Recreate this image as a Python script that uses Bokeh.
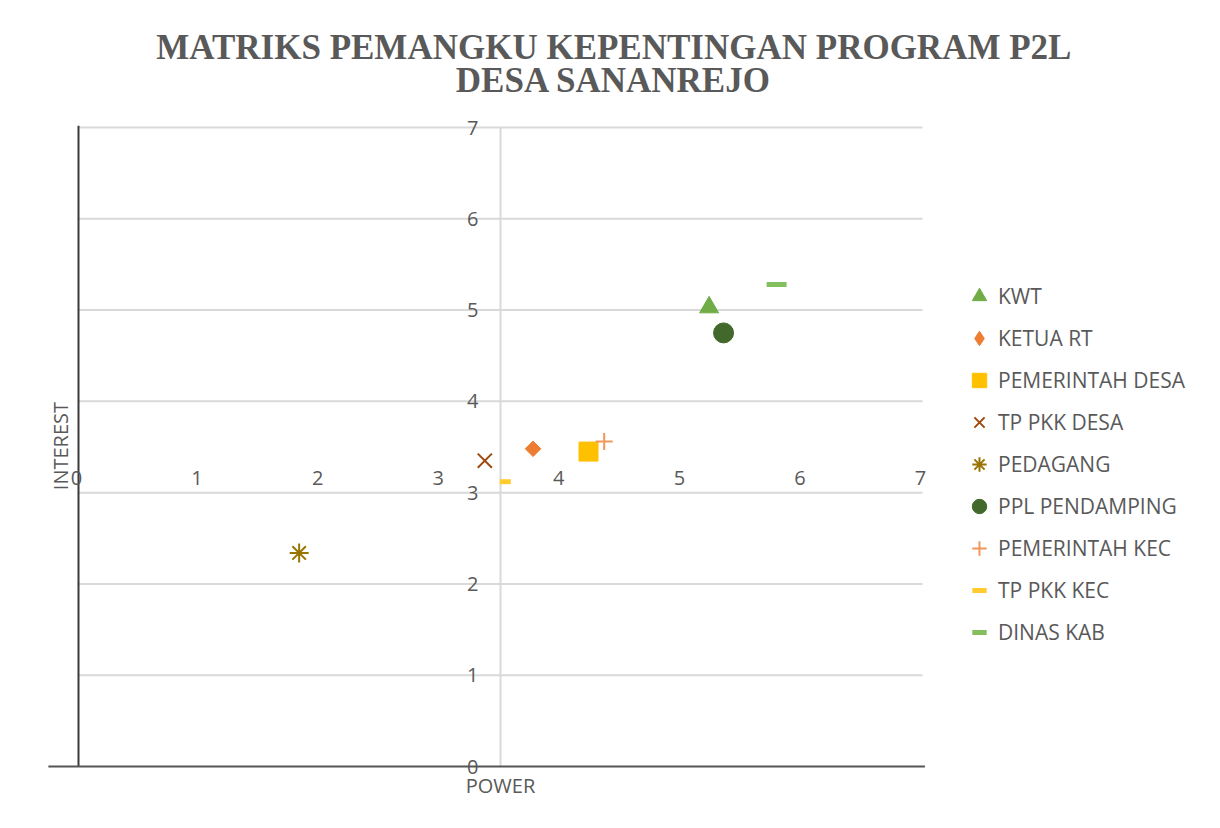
import math
from bokeh.plotting import figure
from bokeh.models import ColumnDataSource, Range1d, Legend, LegendItem
from bokeh.core.properties import value
from bokeh.embed import file_html
from bokeh.resources import INLINE

# ---- data ----
stakeholders = ["KWT", "KETUA RT", "PEMERINTAH DESA", "TP PKK DESA", "PEDAGANG",
                "PPL PENDAMPING", "PEMERINTAH KEC", "TP PKK KEC", "DINAS KAB"]
power = [5.23, 3.77, 4.23, 3.37, 1.83, 5.35, 4.36, 3.54, 5.79]
interest = [5.03, 3.48, 3.45, 3.35, 2.34, 4.75, 3.56, 3.12, 5.28]
x_ticks = [0, 1, 2, 3, 4, 5, 6, 7]
y_ticks = [0, 1, 2, 3, 4, 5, 6, 7]
title_lines = ["MATRIKS PEMANGKU KEPENTINGAN PROGRAM P2L", "DESA SANANREJO"]
x_title = "POWER"
y_title = "INTEREST"

# ---- styles ----
markers = ["triangle", "square", "square", "x", "asterisk", "circle", "cross", "dash", "dash"]
legend_markers = ["triangle", "diamond", "square", "x", "asterisk", "circle", "cross", "dash", "dash"]
angles = [0, math.pi / 4, 0, 0, 0, 0, 0, 0, 0]
colors = ["#70AD47", "#ED7D31", "#FFC000", "#9E480E", "#997300", "#43682B",
          "#F1975A", "#FFCB2E", "#84BF5E"]
sizes = [19, 11, 19, 20, 19, 20, 17, 11, 20]
TEXT = "#595959"
GRID = "#D9D9D9"
FONT = "Open Sans"

W, H = 1220, 828
# chart area: x 0..7 -> px 78..922, y 0..7 -> px 766..127
sx = (922 - 78) / 7.0
sy = (766 - 127) / 7.0
x0 = -78 / sx
x1 = (W - 78) / sx
y1 = 766 / sy
y0 = (766 - H) / sy

p = figure(width=W, height=H, min_border=0,
           x_range=Range1d(x0, x1), y_range=Range1d(y0, y1),
           x_axis_location=None, y_axis_location=None,
           output_backend="svg", toolbar_location=None)
p.outline_line_color = None
p.xgrid.visible = False
p.ygrid.visible = False
p.background_fill_color = "white"
p.border_fill_color = "white"

xmin, xmax = min(x_ticks), max(x_ticks)
ymin, ymax = min(y_ticks), max(y_ticks)
ycross = 3.5
xlabel_y = 3.16

# horizontal gridlines
p.segment(x0=[xmin] * (len(y_ticks) - 1), x1=[xmax] * (len(y_ticks) - 1),
          y0=y_ticks[1:], y1=y_ticks[1:], line_color=GRID, line_width=2)
# vertical axis line crossing at 3.5
p.segment(x0=[ycross], x1=[ycross], y0=[ymin], y1=[ymax], line_color=GRID, line_width=2)
# dark left and bottom borders
p.segment(x0=[xmin], x1=[xmin], y0=[ymin], y1=[ymax + 0.02], line_color="#3a3a3a", line_width=2)
p.segment(x0=[xmin - 0.25], x1=[xmax + 0.02], y0=[ymin], y1=[ymin], line_color="#555555",
          line_width=2)

# tick labels
p.text(x=x_ticks, y=[xlabel_y] * len(x_ticks), text=[str(v) for v in x_ticks], x_offset=-2,
       text_align="center", text_baseline="middle", text_color=TEXT,
       text_font=value(FONT), text_font_size="20px")
p.text(x=[ycross] * len(y_ticks), y=y_ticks, text=[str(v) for v in y_ticks], x_offset=-22,
       text_align="right", text_baseline="middle", text_color=TEXT,
       text_font=value(FONT), text_font_size="20px")

# axis titles
p.text(x=[3.5], y=[-0.21], text=[x_title], text_align="center", text_baseline="middle",
       text_color=TEXT, text_font=value(FONT), text_font_size="20px")
p.text(x=[-0.15], y=[3.51], text=[y_title], angle=math.pi / 2, text_align="center",
       text_baseline="middle", text_color=TEXT, text_font=value(FONT), text_font_size="20px")

# chart title
p.text(x=[4.44, 4.44], y=[7.88, 7.52], text=title_lines, text_align="center",
       text_baseline="middle", text_color=TEXT, text_font=value("Liberation Serif"),
       text_font_style="bold", text_font_size="35px")

# points
items = []
for i, name in enumerate(stakeholders):
    src = ColumnDataSource(dict(x=[power[i]], y=[interest[i]]))
    m = markers[i]
    if m in ("x", "asterisk", "cross"):
        kw = dict(line_color=colors[i], line_width=2, fill_color=None)
    elif m == "dash":
        kw = dict(line_color=colors[i], line_width=5, fill_color=None)
    else:
        kw = dict(line_color=colors[i], fill_color=colors[i], line_width=1)
    r = p.scatter("x", "y", source=src, marker=m, size=sizes[i], angle=angles[i], **kw)
    if legend_markers[i] != m:
        # legend-only glyph (no visible point)
        lsrc = ColumnDataSource(dict(x=[float("nan")], y=[float("nan")]))
        lr = p.scatter("x", "y", source=lsrc, marker=legend_markers[i], size=sizes[i], **kw)
        items.append(LegendItem(label=name, renderers=[lr]))
    else:
        items.append(LegendItem(label=name, renderers=[r]))

legend = Legend(items=items, location=(961, 178), border_line_color=None,
                background_fill_alpha=0, padding=0, margin=0, spacing=6,
                glyph_width=36, glyph_height=36, label_height=36, label_standoff=1,
                label_text_font=FONT, label_text_font_size="21px", label_text_color=TEXT)
p.add_layout(legend)

open("out.html", "w").write(file_html(p, INLINE))
